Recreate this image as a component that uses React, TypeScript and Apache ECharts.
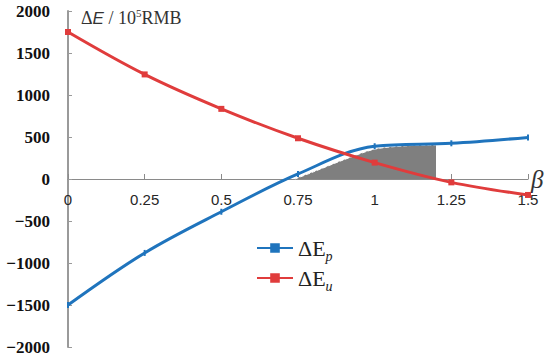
import React, { useEffect, useRef } from "react";
import * as echarts from "echarts";

const xTicks = [0, 0.25, 0.5, 0.75, 1, 1.25, 1.5];
const yTicks = [-2000, -1500, -1000, -500, 0, 500, 1000, 1500, 2000];
const beta = [0, 0.25, 0.5, 0.75, 1, 1.25, 1.5];
const deltaEp = [-1500, -880, -390, 60, 390, 425, 495];
const deltaEu = [1750, 1245, 835, 485, 195, -40, -190];
const shadeBeta = [0.74, 0.8, 0.9, 1.0, 1.1, 1.2];
const shadeValue = [0, 85, 230, 355, 395, 405];
const seriesNames = ["ΔEp", "ΔEu"];

const BLUE = "#1f74bd";
const RED = "#e03c3c";
const SERIF = "Liberation Serif";
const SANS = "Liberation Sans";

const GRID_TOP = 11;
const GRID_BOTTOM = 9;
const CHART_H = 356;

export default function App() {
  const ref = useRef<HTMLDivElement>(null);
  useEffect(() => {
    if (!ref.current) return;
    const chart = echarts.init(ref.current, null, { renderer: "svg" });
    const gridH = CHART_H - GRID_TOP - GRID_BOTTOM;
    chart.setOption({
      animation: false,
      backgroundColor: "#ffffff",
      title: {
        left: 76,
        top: 2,
        text: "{n|Δ}{i|E}{n| / 10}{s|5}{n|RMB}",
        textStyle: {
          fontWeight: "normal",
          rich: {
            n: { fontFamily: SERIF, fontWeight: "normal", fontSize: 18, color: "#333", lineHeight: 22 },
            i: { fontFamily: SANS, fontWeight: "normal", fontStyle: "italic", fontSize: 17, color: "#333", lineHeight: 22 },
            s: { fontFamily: SERIF, fontWeight: "normal", fontSize: 11, color: "#333", lineHeight: 22, verticalAlign: "top" },
          },
        },
      },
      legend: {
        orient: "vertical",
        left: 251,
        top: 232,
        itemWidth: 36,
        itemHeight: 12,
        itemGap: 4,
        data: seriesNames,
        formatter: (name: string) => `{d|ΔE}{s|${name.slice(2)}}`,
        textStyle: {
          rich: {
            d: { fontFamily: SERIF, fontSize: 22, color: "#222", lineHeight: 24 },
            s: { fontFamily: SERIF, fontStyle: "italic", fontSize: 14, color: "#222", lineHeight: 30, verticalAlign: "bottom" },
          },
        },
      },
      grid: { left: 68, right: 22, top: GRID_TOP, bottom: GRID_BOTTOM, containLabel: false, outerBoundsMode: "none" },
      xAxis: {
        type: "value",
        min: xTicks[0],
        max: xTicks[xTicks.length - 1],
        interval: xTicks[1] - xTicks[0],
        position: "bottom",
        offset: -gridH / 2,
        name: "β",
        nameLocation: "end",
        nameGap: 3,
        nameTextStyle: { fontFamily: SERIF, fontStyle: "italic", fontSize: 25, color: "#333", padding: [6, 0, 0, 0] },
        axisLine: { onZero: false, lineStyle: { color: "#8a8a8a", width: 1.2 } },
        axisTick: { inside: true, length: 5, lineStyle: { color: "#8a8a8a" } },
        splitLine: { show: false },
        axisLabel: {
          margin: 13,
          fontFamily: SANS,
          fontSize: 15,
          color: "#262626",
          showMaxLabel: true,
          showMinLabel: true,
        },
      },
      yAxis: {
        type: "value",
        min: yTicks[0],
        max: yTicks[yTicks.length - 1],
        interval: yTicks[1] - yTicks[0],
        axisLine: { show: true, lineStyle: { color: "#9a9a9a", width: 2 } },
        axisTick: { show: true, inside: true, length: 4, lineStyle: { color: "#9a9a9a" } },
        splitLine: { show: false },
        axisLabel: {
          margin: 18,
          fontFamily: SERIF,
          fontWeight: "bold",
          fontSize: 17,
          color: "#111",
          showMaxLabel: true,
          showMinLabel: true,
          formatter: (v: number) => String(v).replace("-", "−"),
        },
      },
      series: [
        {
          name: "shade",
          type: "line",
          silent: true,
          smooth: 0.3,
          symbol: "none",
          data: shadeBeta.map((b, i) => [b, shadeValue[i]]),
          lineStyle: { color: "#ffffff", width: 1, type: "dashed" },
          areaStyle: { color: "#7f7f7f", opacity: 1 },
          z: 1,
        },
        {
          name: seriesNames[0],
          type: "line",
          smooth: 0.35,
          symbol: "rect",
          symbolSize: [2, 6],
          data: beta.map((b, i) => [b, deltaEp[i]]),
          lineStyle: { color: BLUE, width: 3 },
          itemStyle: { color: BLUE },
          z: 2,
        },
        {
          name: seriesNames[1],
          type: "line",
          smooth: 0.35,
          symbol: "rect",
          symbolSize: 6,
          data: beta.map((b, i) => [b, deltaEu[i]]),
          lineStyle: { color: RED, width: 3 },
          itemStyle: { color: RED },
          z: 3,
        },
      ],
    });
    return () => chart.dispose();
  }, []);
  return <div ref={ref} style={{ width: 550, height: 356, position: "absolute", left: 0, top: 0 }} />;
}
